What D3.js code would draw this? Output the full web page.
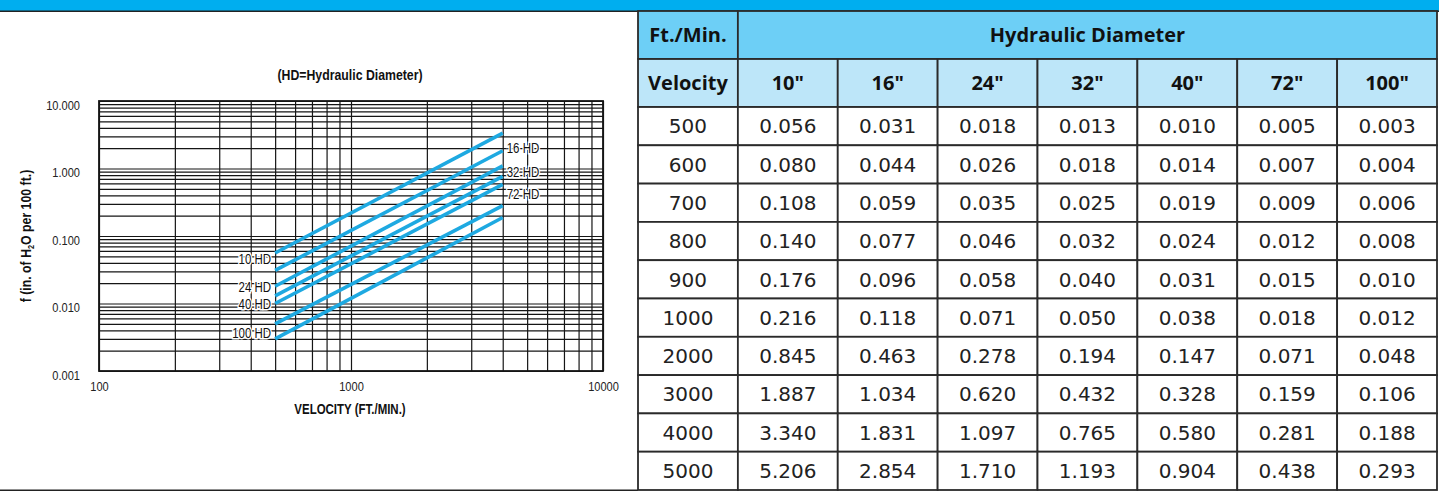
<!DOCTYPE html>
<html><head><meta charset="utf-8">
<script src="https://cdn.jsdelivr.net/npm/d3@7"></script>
<style>
html,body{margin:0;padding:0;background:#fff;}
svg{display:block;}
</style></head><body>
<div id="chart"></div>
<script>
// ---------- DATA ----------
const velocities = [500, 600, 700, 800, 900, 1000, 2000, 3000, 4000, 5000];
const diameterLabels = ['10"', '16"', '24"', '32"', '40"', '72"', '100"'];
const seriesNames = ["10 HD", "16 HD", "24 HD", "32 HD", "40 HD", "72 HD", "100 HD"];
const hd10  = [0.056, 0.080, 0.108, 0.140, 0.176, 0.216, 0.845, 1.887, 3.340, 5.206];
const hd16  = [0.031, 0.044, 0.059, 0.077, 0.096, 0.118, 0.463, 1.034, 1.831, 2.854];
const hd24  = [0.018, 0.026, 0.035, 0.046, 0.058, 0.071, 0.278, 0.620, 1.097, 1.710];
const hd32  = [0.013, 0.018, 0.025, 0.032, 0.040, 0.050, 0.194, 0.432, 0.765, 1.193];
const hd40  = [0.010, 0.014, 0.019, 0.024, 0.031, 0.038, 0.147, 0.328, 0.580, 0.904];
const hd72  = [0.005, 0.007, 0.009, 0.012, 0.015, 0.018, 0.071, 0.159, 0.281, 0.438];
const hd100 = [0.003, 0.004, 0.006, 0.008, 0.010, 0.012, 0.048, 0.106, 0.188, 0.293];
const seriesValues = [hd10, hd16, hd24, hd32, hd40, hd72, hd100];
const chartVelocityEnds = [500, 4000];
const xTickValues = [100, 1000, 10000];
const yTickValues = [0.001, 0.01, 0.1, 1, 10];
const xDomain = [100, 10000];
const yDomain = [0.001, 10];
const chartTitle = "(HD=Hydraulic Diameter)";
const xTitle = "VELOCITY (FT./MIN.)";
const headerCorner = "Ft./Min.";
const headerSpan = "Hydraulic Diameter";
const headerVelocity = "Velocity";

// ---------- STYLE / LAYOUT ----------
const W = 1439, H = 491;
const BLUE_BAND = "#00AEEF", H1_FILL = "#6DCFF6", H2_FILL = "#BDE6F9";
const LINE_BLUE = "#1EA9E1", INK = "#151515";
const NARROW = "'Liberation Sans',Arial,sans-serif";
const SQ = 0.82; // horizontal condensing
const plot = {x0: 99, x1: 603, y0: 101, y1: 371};
const labelSide = ["left", "right", "left", "right", "left", "right", "left"];
const labelNudge = [6, -3, 1, -4, 0, -12, -6];

const svg = d3.select("#chart").append("svg").attr("width", W).attr("height", H);

// top band + frame
svg.append("rect").attr("x", 0).attr("y", 0).attr("width", W).attr("height", 11).attr("fill", BLUE_BAND);
svg.append("line").attr("x1", 0).attr("x2", W).attr("y1", 11.2).attr("y2", 11.2).attr("stroke", "#222").attr("stroke-width", 1.5);
svg.append("line").attr("x1", 0).attr("x2", 638).attr("y1", 490.2).attr("y2", 490.2).attr("stroke", "#222").attr("stroke-width", 1.5);

function narrow(parent, x, y, str, size, bold, anchor, extra) {
  const t = parent.append("text")
    .attr("transform", `translate(${x},${y})${extra || ""} scale(${SQ},1)`)
    .attr("text-anchor", anchor || "middle").attr("dy", "0.36em")
    .attr("font-family", NARROW).attr("font-size", size)
    .attr("font-weight", bold ? "bold" : "normal").attr("fill", "#111");
  if (str !== null) t.text(str);
  return t;
}

// ---------- CHART ----------
const x = d3.scaleLog().domain(xDomain).range([plot.x0, plot.x1]);
const y = d3.scaleLog().domain(yDomain).range([plot.y1, plot.y0]);

const decadesX = [100, 1000], decadesY = [0.001, 0.01, 0.1, 1];
const mults = [1, 2, 3, 4, 5, 6, 7, 8, 9];
const xGrid = decadesX.flatMap(d => mults.map(m => m * d)).concat([xDomain[1]]);
const yGrid = decadesY.flatMap(d => mults.map(m => +(m * d).toPrecision(3))).concat([yDomain[1]]);

const g = svg.append("g");
const gx = g.append("g").attr("transform", `translate(0,${plot.y1})`)
  .call(d3.axisBottom(x).tickValues(xGrid).tickSize(-(plot.y1 - plot.y0)).tickFormat(""));
const gy = g.append("g").attr("transform", `translate(${plot.x0},0)`)
  .call(d3.axisLeft(y).tickValues(yGrid).tickSize(-(plot.x1 - plot.x0)).tickFormat(""));
[gx, gy].forEach(a => {
  a.select(".domain").remove();
  a.selectAll("line").attr("stroke", INK).attr("stroke-width", 1.2);
});
g.append("rect").attr("x", plot.x0).attr("y", plot.y0)
  .attr("width", plot.x1 - plot.x0).attr("height", plot.y1 - plot.y0)
  .attr("fill", "none").attr("stroke", INK).attr("stroke-width", 1.8);

// tick labels (axes, condensed)
const yAx = g.append("g").attr("transform", `translate(${plot.x0},0)`)
  .call(d3.axisLeft(y).tickValues(yTickValues).tickFormat(d3.format(".3f")).tickSize(0).tickPadding(19));
yAx.select(".domain").remove();
yAx.selectAll("text").attr("font-family", NARROW).attr("font-size", 13.5).attr("fill", "#222")
  .attr("x", -19 / SQ).attr("dy", "0.62em").attr("transform", `scale(${SQ},1)`);
const xAx = g.append("g").attr("transform", `translate(0,${plot.y1})`)
  .call(d3.axisBottom(x).tickValues(xTickValues).tickFormat(d3.format("d")).tickSize(0).tickPadding(10));
xAx.select(".domain").remove();
xAx.selectAll("text").attr("font-family", NARROW).attr("font-size", 13.5).attr("fill", "#222")
  .attr("transform", `scale(${SQ},1)`);

// titles
narrow(g, 350, 75, chartTitle, 15, true);
narrow(g, 350, 409, xTitle, 14, true);
const yt = narrow(g, 26, 236, null, 15, true, "middle", " rotate(-90)");
yt.append("tspan").text("f (in. of H");
yt.append("tspan").attr("font-size", 9).attr("dy", 3).text("2");
yt.append("tspan").attr("dy", -3).text("O per 100 ft.)");

// series lines
const endIdx = chartVelocityEnds.map(v => velocities.indexOf(v));
const line = d3.line().x(d => x(d[0])).y(d => y(d[1]));
seriesValues.forEach((vals, i) => {
  const pts = endIdx.map(k => [velocities[k], vals[k]]);
  g.append("path").attr("d", line(pts)).attr("fill", "none")
    .attr("stroke", LINE_BLUE).attr("stroke-width", 3.6);
});
// series labels
seriesValues.forEach((vals, i) => {
  const left = labelSide[i] === "left";
  const k = left ? endIdx[0] : endIdx[1];
  const px = x(velocities[k]) + (left ? -4 : 4);
  const py = y(vals[k]) + labelNudge[i];
  narrow(g, px, py, seriesNames[i], 14, false, left ? "end" : "start")
    .attr("stroke", "#fff").attr("stroke-width", 3).attr("paint-order", "stroke");
});

// ---------- TABLE ----------
const tx0 = 638, tx1 = 1437, nCols = diameterLabels.length + 1;
const colW = (tx1 - tx0) / nCols;
const hy0 = 11, hRow = 48, dy0 = hy0 + 2 * hRow, dy1 = 490;
const dRow = (dy1 - dy0) / velocities.length;
const colX = d3.range(nCols).map(c => tx0 + c * colW);
const T = svg.append("g");
const BOLD = "'Open Sans',sans-serif";
const cellStroke = "#2a2a2a", cw = 1.8;

// header row 1
T.append("rect").attr("x", colX[0]).attr("y", hy0).attr("width", colW).attr("height", hRow)
  .attr("fill", H1_FILL).attr("stroke", cellStroke).attr("stroke-width", cw);
T.append("rect").attr("x", colX[1]).attr("y", hy0).attr("width", tx1 - colX[1]).attr("height", hRow)
  .attr("fill", H1_FILL).attr("stroke", cellStroke).attr("stroke-width", cw);
T.append("text").attr("x", colX[0] + colW / 2).attr("y", hy0 + hRow / 2).attr("dy", "0.36em")
  .attr("text-anchor", "middle").attr("font-family", BOLD).attr("font-weight", "bold").attr("font-size", 20)
  .attr("fill", "#111").text(headerCorner);
T.append("text").attr("x", (colX[1] + tx1) / 2).attr("y", hy0 + hRow / 2).attr("dy", "0.36em")
  .attr("text-anchor", "middle").attr("font-family", BOLD).attr("font-weight", "bold").attr("font-size", 20)
  .attr("fill", "#111").text(headerSpan);

// header row 2
const h2 = [headerVelocity].concat(diameterLabels);
h2.forEach((t, c) => {
  T.append("rect").attr("x", colX[c]).attr("y", hy0 + hRow).attr("width", colW).attr("height", hRow)
    .attr("fill", H2_FILL).attr("stroke", cellStroke).attr("stroke-width", cw);
  T.append("text").attr("x", colX[c] + colW / 2).attr("y", hy0 + hRow * 1.5).attr("dy", "0.36em")
    .attr("text-anchor", "middle").attr("font-family", BOLD).attr("font-weight", "bold").attr("font-size", 20)
    .attr("fill", "#111").text(t);
});

// data rows
const fmt = d3.format(".3f");
velocities.forEach((v, r) => {
  const cells = [String(v)].concat(seriesValues.map(s => fmt(s[r])));
  cells.forEach((t, c) => {
    const yy = dy0 + r * dRow;
    T.append("rect").attr("x", colX[c]).attr("y", yy).attr("width", colW).attr("height", dRow)
      .attr("fill", "#fff").attr("stroke", cellStroke).attr("stroke-width", cw);
    T.append("text").attr("x", colX[c] + colW / 2).attr("y", yy + dRow / 2).attr("dy", "0.36em")
      .attr("text-anchor", "middle").attr("font-family", "'DejaVu Sans',sans-serif").attr("font-size", 20)
      .attr("fill", "#222").text(t);
  });
});
</script>
</body></html>
